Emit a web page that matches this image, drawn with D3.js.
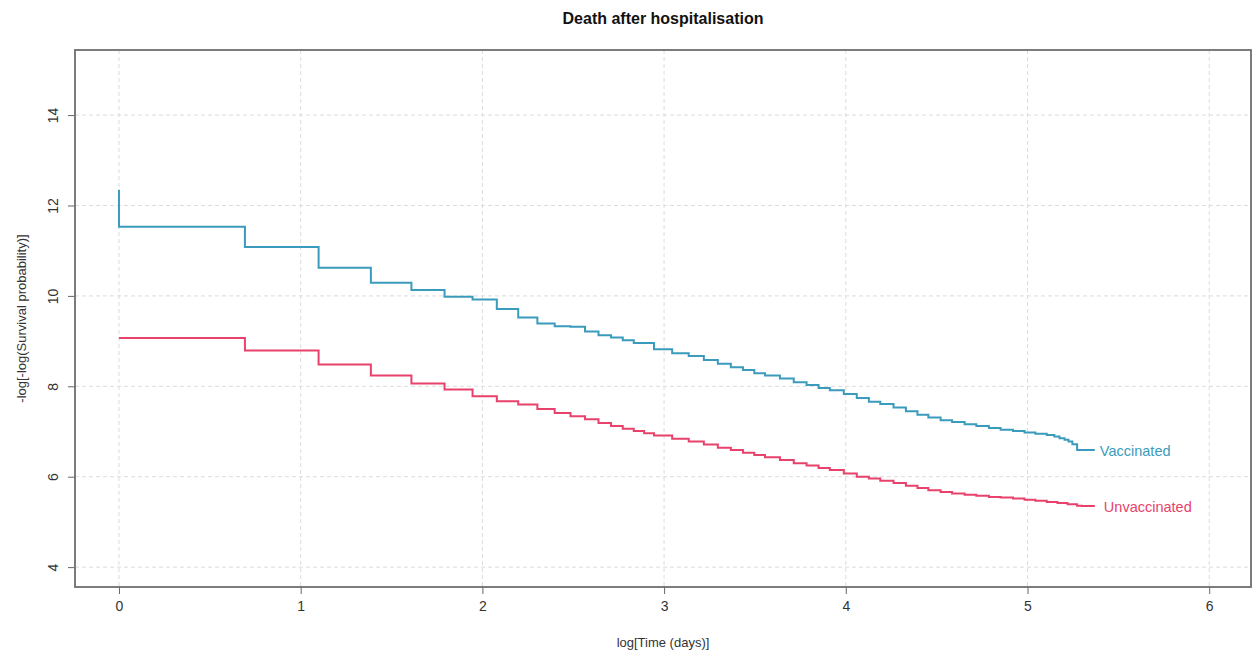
<!DOCTYPE html>
<html>
<head>
<meta charset="utf-8">
<script src="https://cdn.jsdelivr.net/npm/d3@7"></script>
<style>
  body { margin: 0; background: #fff; font-family: "Liberation Sans", Arial, sans-serif; }
</style>
</head>
<body>
<div id="chart"></div>
<script>
// KM curves, time in days (x axis shows log of it), y = -log[-log(S)]
const vaccDays = [1, 1, 2, 3, 4, 5, 6, 7, 8, 9, 10, 11, 12, 13, 14, 15, 16, 17, 19, 21,
    23, 25, 27, 29, 31, 33, 35, 38, 41, 44, 47, 50, 54, 58, 62, 66, 71, 76, 81, 86, 92, 98,
    105, 112, 120, 128, 137, 146, 155, 165, 172, 177, 182, 186, 190, 195, 215];
const vaccValues = [12.35, 11.53, 11.08, 10.62, 10.29, 10.13, 9.98, 9.92, 9.71, 9.52, 9.39, 9.33, 9.32, 9.21, 9.13, 9.08, 9.02, 8.96, 8.82, 8.73,
    8.67, 8.58, 8.50, 8.42, 8.36, 8.29, 8.24, 8.17, 8.09, 8.03, 7.96, 7.91, 7.83, 7.74, 7.66, 7.61, 7.53, 7.45, 7.37, 7.31, 7.25, 7.21,
    7.16, 7.12, 7.08, 7.04, 7.01, 6.98, 6.95, 6.92, 6.89, 6.85, 6.82, 6.78, 6.72, 6.59, 6.59];

const unvaccDays = [1, 2, 3, 4, 5, 6, 7, 8, 9, 10, 11, 12, 13, 14, 15, 16, 17, 18, 19, 21,
    23, 25, 27, 29, 31, 33, 35, 38, 41, 44, 47, 50, 54, 58, 62, 66, 71, 76, 81, 86, 92, 98,
    105, 112, 120, 128, 137, 146, 155, 165, 175, 185, 195, 200, 215];
const unvaccValues = [9.07, 8.79, 8.48, 8.24, 8.06, 7.93, 7.78, 7.67, 7.60, 7.50, 7.41, 7.34, 7.27, 7.19, 7.12, 7.06, 7.01, 6.96, 6.91, 6.84,
    6.78, 6.71, 6.64, 6.59, 6.53, 6.48, 6.43, 6.37, 6.30, 6.25, 6.19, 6.15, 6.07, 6.00, 5.96, 5.91, 5.86, 5.80, 5.75, 5.70, 5.66, 5.63,
    5.60, 5.58, 5.55, 5.54, 5.52, 5.49, 5.47, 5.44, 5.42, 5.39, 5.36, 5.35, 5.35];

const groupNames = ["Vaccinated", "Unvaccinated"];
const groupColors = ["#3b9bbd", "#e8416b"];
const xTicks = [0, 1, 2, 3, 4, 5, 6];
const yTicks = [4, 6, 8, 10, 12, 14];

const width = 1253, height = 656;
const box = {left: 75, right: 1251, top: 50, bottom: 587};

const svg = d3.select("#chart")
    .append("svg")
    .attr("width", width)
    .attr("height", height);

const x = d3.scaleLinear()
    .domain([-0.242, 6.23])
    .range([box.left, box.right]);

const y = d3.scaleLinear()
    .domain([3.56, 15.44])
    .range([box.bottom, box.top]);

// grid
const grid = svg.append("g")
    .attr("stroke", "#dcdcdc")
    .attr("stroke-width", 1)
    .attr("stroke-dasharray", "4,3");

grid.selectAll("line.gx")
    .data(xTicks)
    .enter()
    .append("line")
    .attr("x1", d => x(d)).attr("x2", d => x(d))
    .attr("y1", box.top).attr("y2", box.bottom);

grid.selectAll("line.gy")
    .data(yTicks)
    .enter()
    .append("line")
    .attr("x1", box.left).attr("x2", box.right)
    .attr("y1", d => y(d)).attr("y2", d => y(d));

// curves
const series = [
    {name: groupNames[0], color: groupColors[0], pts: vaccDays.map((d, i) => [Math.log(d), vaccValues[i]])},
    {name: groupNames[1], color: groupColors[1], pts: unvaccDays.map((d, i) => [Math.log(d), unvaccValues[i]])}
];

const line = d3.line()
    .x(d => x(d[0]))
    .y(d => y(d[1]))
    .curve(d3.curveStepAfter);

svg.selectAll("path.km")
    .data(series)
    .enter()
    .append("path")
    .attr("class", "km")
    .attr("d", d => line(d.pts))
    .attr("fill", "none")
    .attr("stroke", d => d.color)
    .attr("stroke-width", 2);

svg.selectAll("text.lab")
    .data(series)
    .enter()
    .append("text")
    .attr("class", "lab")
    .attr("x", (d, i) => x(d.pts[d.pts.length - 1][0]) + (i == 0 ? 5 : 9))
    .attr("y", d => y(d.pts[d.pts.length - 1][1]) + 2)
    .attr("dominant-baseline", "middle")
    .attr("font-size", "14.5px")
    .attr("fill", d => d.color)
    .text(d => d.name);

// axes
const xAxis = svg.append("g")
    .attr("transform", `translate(0,${box.bottom})`)
    .call(d3.axisBottom(x).tickValues(xTicks).tickFormat(d3.format("d")).tickSize(7).tickPadding(7));

const yAxis = svg.append("g")
    .attr("transform", `translate(${box.left},0)`)
    .call(d3.axisLeft(y).tickValues(yTicks).tickFormat(d3.format("d")).tickSize(7));

[xAxis, yAxis].forEach(a => {
    a.select(".domain").remove();
    a.selectAll(".tick line").attr("stroke", "#666");
    a.selectAll(".tick text")
        .attr("fill", "#333")
        .attr("font-size", "14px")
        .attr("font-family", "Liberation Sans, Arial, sans-serif");
});

yAxis.selectAll(".tick text")
    .attr("x", 0)
    .attr("dy", 0)
    .attr("text-anchor", "middle")
    .attr("transform", "translate(-17,0) rotate(-90)");

// plot frame
svg.append("rect")
    .attr("x", box.left).attr("y", box.top)
    .attr("width", box.right - box.left)
    .attr("height", box.bottom - box.top)
    .attr("fill", "none")
    .attr("stroke", "#6e6e6e")
    .attr("stroke-width", 1.8);

// titles
svg.append("text")
    .attr("x", (box.left + box.right) / 2)
    .attr("y", 24)
    .attr("text-anchor", "middle")
    .attr("font-size", "16px")
    .attr("font-weight", "bold")
    .attr("fill", "#111")
    .text("Death after hospitalisation");

svg.append("text")
    .attr("x", (box.left + box.right) / 2)
    .attr("y", 647)
    .attr("text-anchor", "middle")
    .attr("font-size", "13px")
    .attr("fill", "#333")
    .text("log[Time (days)]");

svg.append("text")
    .attr("transform", `translate(26,${(box.top + box.bottom) / 2}) rotate(-90)`)
    .attr("text-anchor", "middle")
    .attr("font-size", "13px")
    .attr("fill", "#333")
    .text("-log[-log(Survival probability)]");
</script>
</body>
</html>
